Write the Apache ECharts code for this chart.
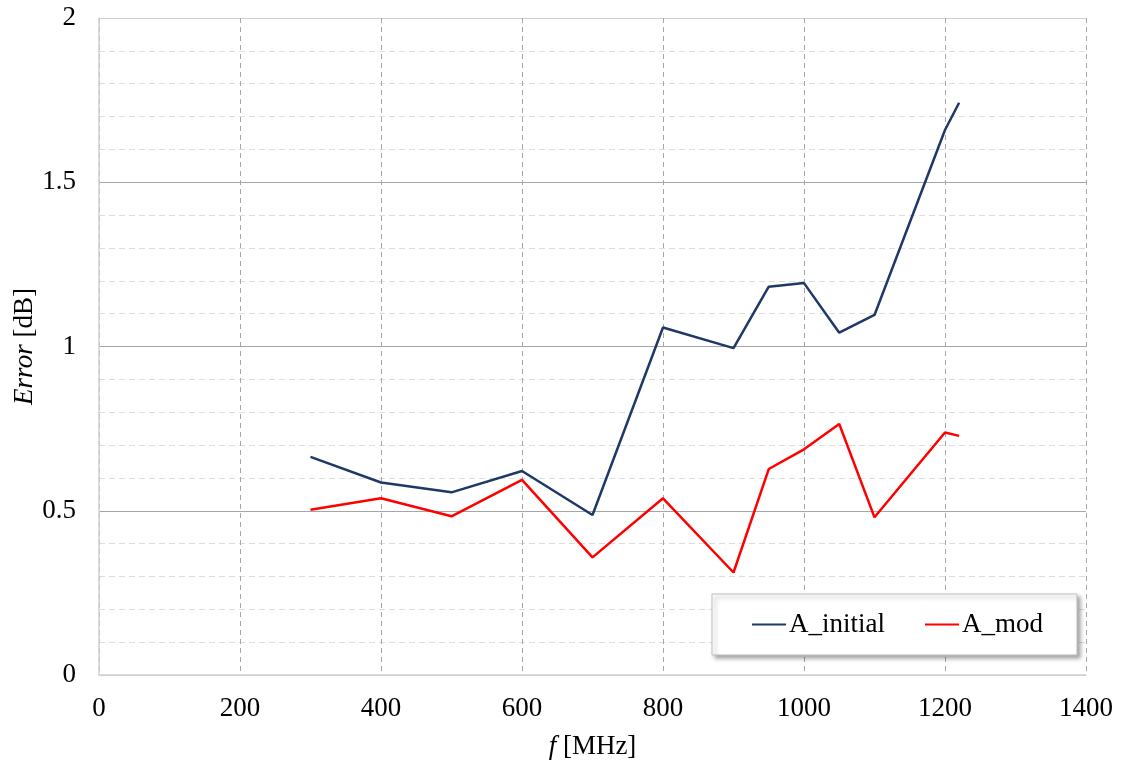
<!DOCTYPE html>
<html>
<head>
<meta charset="utf-8">
<script src="https://cdn.jsdelivr.net/npm/echarts@6/dist/echarts.min.js"></script>
<style>
  html, body { margin: 0; padding: 0; background: #ffffff; }
  #chart { width: 1128px; height: 760px; }
</style>
</head>
<body>
<div id="chart"></div>
<script>
// Frequency points [MHz]
var freqs = [300, 400, 500, 600, 700, 800, 900, 950, 1000, 1050, 1100, 1200, 1220];
// Error [dB] per configuration
var aInitial = [0.664, 0.586, 0.556, 0.621, 0.487, 1.058, 0.995, 1.182, 1.193, 1.042, 1.096, 1.659, 1.742];
var aMod     = [0.503, 0.538, 0.483, 0.594, 0.358, 0.538, 0.312, 0.627, 0.687, 0.764, 0.480, 0.738, 0.728];
var seriesNames = ['A_initial', 'A_mod'];

function pairs(xs, ys) {
  return xs.map(function (x, i) { return [x, ys[i]]; });
}

var FONT = '"Liberation Serif", "Times New Roman", serif';
var FS = 27;
var chart = echarts.init(document.getElementById('chart'), null, { renderer: 'canvas' });

chart.setOption({
  animation: false,
  backgroundColor: '#ffffff',
  textStyle: { fontFamily: FONT, color: '#000000' },
  grid: { left: 99, right: 42, top: 18, bottom: 85, containLabel: false, outerBoundsMode: 'none' },
  legend: {
    data: seriesNames,
    right: 51,
    top: 594,
    orient: 'horizontal',
    backgroundColor: '#ffffff',
    borderColor: '#bfbfbf',
    borderWidth: 1,
    shadowColor: 'rgba(0,0,0,0.35)',
    shadowBlur: 4,
    shadowOffsetX: 3,
    shadowOffsetY: 3,
    padding: [17, 34, 17, 40],
    itemGap: 40,
    itemWidth: 34,
    itemHeight: 2,
    icon: 'rect',
    textStyle: { fontFamily: FONT, fontSize: FS, color: '#000000', padding: [0, 0, 0, -2] }
  },
  xAxis: {
    type: 'value',
    min: 0,
    max: 1400,
    interval: 200,
    name: '{i|f} [MHz]',
    nameLocation: 'middle',
    nameGap: 58,
    nameMoveOverlap: false,
    nameTextStyle: {
      fontFamily: FONT, fontSize: FS, color: '#000000',
      rich: { i: { fontFamily: FONT, fontSize: FS, fontStyle: 'italic', color: '#000000' } }
    },
    axisLine: { show: true, lineStyle: { color: '#d0d0d0', width: 1.5 } },
    axisTick: { show: false },
    axisLabel: {
      fontFamily: FONT, fontSize: FS, color: '#000000', margin: 20,
      formatter: function (v) { return String(v); }
    },
    splitLine: { show: true, lineStyle: { color: '#a6a6a6', type: [5, 4], width: 1 } }
  },
  yAxis: {
    type: 'value',
    min: 0,
    max: 2,
    interval: 0.5,
    name: '{i|Error} [dB]',
    nameLocation: 'middle',
    nameRotate: 90,
    nameGap: 61,
    nameMoveOverlap: false,
    nameTextStyle: {
      fontFamily: FONT, fontSize: FS, color: '#000000',
      rich: { i: { fontFamily: FONT, fontSize: FS, fontStyle: 'italic', color: '#000000' } }
    },
    axisLine: { show: true, lineStyle: { color: '#d0d0d0', width: 1.5 } },
    axisTick: { show: false },
    axisLabel: {
      fontFamily: FONT, fontSize: FS, color: '#000000', margin: 23,
      formatter: function (v) { return String(v); }
    },
    splitLine: {
      show: true,
      lineStyle: { color: ['#d0d0d0', '#a6a6a6', '#a6a6a6', '#a6a6a6', '#d0d0d0'], width: 1.2 }
    },
    minorTick: { show: false, splitNumber: 5 },
    minorSplitLine: { show: true, lineStyle: { color: '#dcdcdc', type: [6, 4], width: 1 } }
  },
  series: [
    {
      name: seriesNames[0],
      type: 'line',
      data: pairs(freqs, aInitial),
      showSymbol: false,
      symbol: 'none',
      color: '#1f3868',
      lineStyle: { color: '#1f3868', width: 2.5 },
      z: 3
    },
    {
      name: seriesNames[1],
      type: 'line',
      data: pairs(freqs, aMod),
      showSymbol: false,
      symbol: 'none',
      color: '#ff0000',
      lineStyle: { color: '#ff0000', width: 2.5 },
      z: 3
    }
  ]
});
</script>
</body>
</html>
